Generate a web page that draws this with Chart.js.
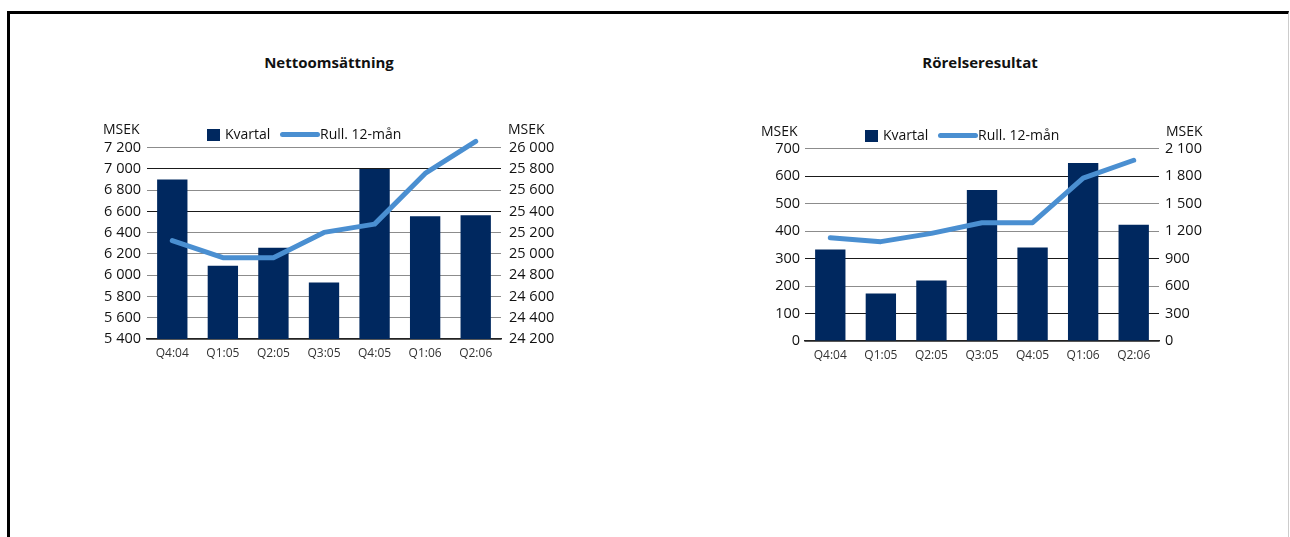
<!DOCTYPE html>
<html>
<head>
<meta charset="utf-8">
<script src="https://cdn.jsdelivr.net/npm/chart.js@4"></script>
<style>
  body { margin: 0; width: 1290px; height: 537px; background: #fff; position: relative; overflow: hidden; font-family: 'Open Sans', sans-serif; }
  .frame { position: absolute; left: 7px; top: 11px; width: 1282px; height: 540px; border-top: 3px solid #000; border-left: 3px solid #000; border-right: 1px solid #ccc; box-sizing: border-box; }
  .txt { position: absolute; white-space: nowrap; color: #111; z-index: 2; }
  .title { font-weight: bold; font-size: 15px; line-height: 20px; transform: translateX(-50%); }
  .unit { font-size: 14px; line-height: 18px; }
  .sq { position: absolute; width: 13px; height: 12px; background: #00285f; z-index: 2; }
  .ln { position: absolute; width: 40px; height: 5px; border-radius: 3px; background: #4a8fd1; z-index: 2; }
  canvas { position: absolute; }
  .box { position: absolute; z-index: 1; }
</style>
</head>
<body>
<div class="frame"></div>
<div class="box" id="boxNetto" style="left:90px; top:131px; width:470px; height:238px;"><canvas id="nettoChart"></canvas></div>
<div class="box" id="boxRorelse" style="left:750px; top:134px; width:465px; height:237px;"><canvas id="rorelseChart"></canvas></div>
<script>
// kvartal
const categories = ['Q4:04', 'Q1:05', 'Q2:05', 'Q3:05', 'Q4:05', 'Q1:06', 'Q2:06'];

// Nettoomsättning
const nettoKvartal = [6900, 6090, 6258, 5932, 7000, 6555, 6565];
const nettoRull = [25126, 24965, 24965, 25203, 25281, 25758, 26060];
const nettoLeftTicks = { min: 5400, max: 7200, step: 200 };
const nettoRightTicks = { min: 24200, max: 26000, step: 200 };

// Rörelseresultat
const rorelseKvartal = [333, 173, 220, 550, 340, 648, 423];
const rorelseRull = [1128, 1085, 1175, 1292, 1292, 1778, 1974];
const rorelseLeftTicks = { min: 0, max: 700, step: 100 };
const rorelseRightTicks = { min: 0, max: 2100, step: 300 };

const legendLabels = ['Kvartal', 'Rull. 12-mån'];
const titles = ['Nettoomsättning', 'Rörelseresultat'];

const barColor = '#00285f';
const lineColor = '#4a8fd1';

function fmt(v) {
    // tusentalsavgränsare med mellanslag
    return String(v).replace(/\B(?=(\d{3})+(?!\d))/g, ' ');
}

function addText(cls, text, left, centerY, lh) {
    const d = document.createElement('div');
    d.className = 'txt ' + cls;
    d.textContent = text;
    d.style.left = left + 'px';
    d.style.top = (centerY - lh / 2) + 'px';
    document.body.appendChild(d);
}

function addLegend(x, cy) {
    const sq = document.createElement('div');
    sq.className = 'sq';
    sq.style.left = x + 'px';
    sq.style.top = (cy - 6) + 'px';
    document.body.appendChild(sq);
    addText('unit', legendLabels[0], x + 18, cy - 1, 18);
    const ln = document.createElement('div');
    ln.className = 'ln';
    ln.style.left = (x + 73) + 'px';
    ln.style.top = (cy - 3) + 'px';
    document.body.appendChild(ln);
    addText('unit', legendLabels[1], x + 113, cy - 1, 18);
}

// rubriker, enheter och förklaring
addText('title', titles[0], 329, 62, 20);
addText('title', titles[1], 980, 62, 20);
addText('unit', 'MSEK', 103, 128.5, 18);
addText('unit', 'MSEK', 508, 128.5, 18);
addText('unit', 'MSEK', 761, 130.5, 18);
addText('unit', 'MSEK', 1166, 130.5, 18);
addLegend(207, 135);
addLegend(865, 136);

function makeChart(id, kvartal, rull, leftT, rightT, darkLines, leftW, rightW, leftPad, rightPad) {
    const ctx = document.getElementById(id);
    return new Chart(ctx, {
        type: 'bar',
        data: {
            labels: categories,
            datasets: [{
                type: 'line',
                label: legendLabels[1],
                data: rull,
                yAxisID: 'y1',
                borderColor: lineColor,
                borderWidth: 5,
                borderCapStyle: 'round',
                borderJoinStyle: 'round',
                pointRadius: 0,
                tension: 0,
                clip: false,
                order: 1
            }, {
                label: legendLabels[0],
                data: kvartal,
                yAxisID: 'y',
                backgroundColor: barColor,
                barPercentage: 0.6,
                categoryPercentage: 1.0,
                order: 2
            }]
        },
        options: {
            responsive: true,
            maintainAspectRatio: false,
            animation: false,
            layout: { padding: 0 },
            plugins: {
                legend: { display: false },
                title: { display: false },
                tooltip: { enabled: false }
            },
            scales: {
                x: {
                    grid: { display: false },
                    border: { display: true, color: '#222', width: 1.5 },
                    ticks: {
                        color: '#333',
                        font: { family: 'Open Sans', size: 12 },
                        maxRotation: 0,
                        autoSkip: false,
                        padding: -1
                    },
                    afterFit(scale) { scale.height = 30; }
                },
                y: {
                    position: 'left',
                    min: leftT.min,
                    max: leftT.max,
                    border: { display: false },
                    grid: {
                        drawTicks: false,
                        lineWidth: 1,
                        color: c => darkLines.includes(c.tick.value) ? '#1a1a1a' : '#8c8c8c'
                    },
                    ticks: {
                        stepSize: leftT.step,
                        color: '#111',
                        font: { family: 'Open Sans', size: 14.5 },
                        padding: leftPad,
                        callback: v => fmt(v)
                    },
                    afterFit(scale) { scale.width = leftW; }
                },
                y1: {
                    position: 'right',
                    min: rightT.min,
                    max: rightT.max,
                    border: { display: false },
                    grid: { drawOnChartArea: false, drawTicks: false },
                    ticks: {
                        stepSize: rightT.step,
                        color: '#111',
                        font: { family: 'Open Sans', size: 14.5 },
                        padding: rightPad,
                        callback: v => fmt(v)
                    },
                    afterFit(scale) { scale.width = rightW; }
                }
            }
        }
    });
}

makeChart('nettoChart', nettoKvartal, nettoRull, nettoLeftTicks, nettoRightTicks, [7000, 6600], 57, 59, 6, 8);
makeChart('rorelseChart', rorelseKvartal, rorelseRull, rorelseLeftTicks, rorelseRightTicks, [600, 300, 100], 55, 56, 5, 6);
</script>
</body>
</html>
